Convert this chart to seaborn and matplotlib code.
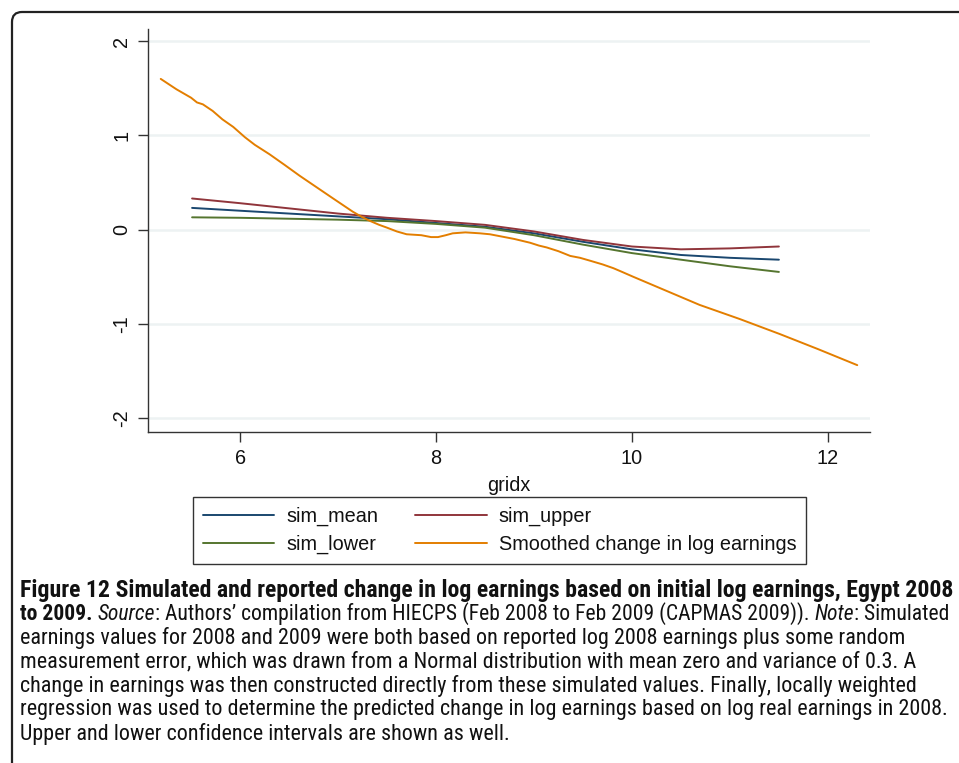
import numpy as np
import pandas as pd
import matplotlib
matplotlib.use("Agg")
import matplotlib.pyplot as plt
from matplotlib import font_manager
from matplotlib.patches import FancyBboxPatch
from matplotlib.lines import Line2D
import seaborn as sns

sns.set_theme(style="white")
plt.rcParams['font.family'] = ['Liberation Sans', 'DejaVu Sans']
plt.rcParams['text.color'] = '#111111'
plt.rcParams['xtick.color'] = '#111111'
plt.rcParams['ytick.color'] = '#111111'
plt.rcParams['axes.labelcolor'] = '#111111'

# --- data ---
sim_x = [5.51, 6.0, 6.5, 7.0, 7.5, 8.0, 8.5, 9.0, 9.5, 10.0, 10.5, 11.0, 11.5]
sim_mean = [0.23, 0.20, 0.17, 0.14, 0.11, 0.07, 0.03, -0.04, -0.13, -0.21, -0.27, -0.30, -0.32]
sim_upper = [0.33, 0.28, 0.225, 0.17, 0.125, 0.09, 0.05, -0.02, -0.11, -0.18, -0.21, -0.20, -0.18]
sim_lower = [0.13, 0.125, 0.115, 0.105, 0.09, 0.06, 0.02, -0.06, -0.16, -0.25, -0.32, -0.39, -0.45]

smooth_x = [5.19, 5.35, 5.50, 5.56, 5.62, 5.72, 5.82, 5.93, 6.05, 6.15, 6.30, 6.45, 6.61,
            6.78, 6.95, 7.05, 7.15, 7.25, 7.33, 7.42, 7.50, 7.60, 7.70, 7.85, 7.95, 8.02,
            8.10, 8.17, 8.30, 8.45, 8.55, 8.65, 8.80, 8.96, 9.05, 9.13, 9.25, 9.37, 9.47,
            9.57, 9.70, 9.81, 9.90, 10.01, 10.35, 10.69, 11.10, 11.51, 11.90, 12.30]
smooth_y = [1.60, 1.49, 1.40, 1.35, 1.33, 1.26, 1.17, 1.09, 0.98, 0.90, 0.80, 0.69, 0.57,
            0.45, 0.33, 0.26, 0.19, 0.13, 0.09, 0.05, 0.02, -0.02, -0.05, -0.06, -0.08, -0.08,
            -0.06, -0.04, -0.03, -0.04, -0.05, -0.07, -0.10, -0.14, -0.17, -0.19, -0.23, -0.28, -0.30,
            -0.33, -0.37, -0.41, -0.45, -0.50, -0.65, -0.80, -0.95, -1.11, -1.27, -1.44]

series_names = ["sim_mean", "sim_upper", "sim_lower", "Smoothed change in log earnings"]
series_colors = ["#1a476f", "#90353b", "#55752f", "#e37e00"]

sims = pd.DataFrame({"gridx": sim_x * 3,
                     "value": sim_mean + sim_upper + sim_lower,
                     "series": ["sim_mean"] * 13 + ["sim_upper"] * 13 + ["sim_lower"] * 13})
smooth = pd.DataFrame({"gridx": smooth_x, "value": smooth_y,
                       "series": "Smoothed change in log earnings"})
data = pd.concat([sims, smooth], ignore_index=True)

W, H = 959, 763
fig = plt.figure(figsize=(W / 100, H / 100), dpi=100)
ax = fig.add_axes([148 / W, 1 - 432 / H, (870 - 148) / W, (432 - 29) / H])

# grid first so lines sit on top
for yv in [-2, -1, 0, 1, 2]:
    ax.axhline(yv, color="#edf2f3", lw=1.8, zorder=0)

sns.lineplot(data=data, x="gridx", y="value", hue="series", hue_order=series_names,
             palette=series_colors, estimator=None, sort=True, lw=1.4, ax=ax, legend=False)

ax.set_xlim(5.06, 12.43)
ax.set_ylim(-2.15, 2.13)
ax.set_xticks([6, 8, 10, 12])
ax.set_yticks([-2, -1, 0, 1, 2])
ax.set_yticklabels(["-2", "-1", "0", "1", "2"], rotation=90, va="center")
ax.set_xlabel("gridx", fontsize=14.3, labelpad=6)
ax.set_ylabel("")
ax.tick_params(axis="both", labelsize=14.3, length=7, width=1, color="#333333",
               direction="out", left=True, bottom=True, pad=5)
for s in ["top", "right"]:
    ax.spines[s].set_visible(False)
for s in ["left", "bottom"]:
    ax.spines[s].set_color("#333333")
    ax.spines[s].set_linewidth(1)

# legend: matplotlib fills by column, so reorder to get rows mean/upper, lower/smoothed
order = [0, 2, 1, 3]
handles = [Line2D([], [], color=series_colors[i], lw=1.4) for i in order]
labels = [series_names[i] for i in order]
leg = fig.legend(handles, labels, loc="upper left", bbox_to_anchor=(193 / W, 1 - 497 / H),
                 ncol=2, fontsize=14.3, frameon=True, fancybox=False, edgecolor="black",
                 handlelength=3.6, handletextpad=0.6, columnspacing=1.85, labelspacing=0.45,
                 borderpad=0.5, borderaxespad=0)
leg.get_frame().set_linewidth(1)

# rounded outer frame
frame = FancyBboxPatch((0.12, -1.0), 11.0, 8.51, boxstyle="round,pad=0,rounding_size=0.1",
                       transform=fig.dpi_scale_trans, fill=False, edgecolor="#222222", lw=1.6)
fig.add_artist(frame)

# caption: pick a narrow face if one is installed
installed = {f.name for f in font_manager.fontManager.ttflist}
cap_family = "DejaVu Sans"
for cand in ["Roboto Condensed", "Open Sans Condensed", "Liberation Sans Narrow", "Roboto", "Lato"]:
    if cand in installed:
        cap_family = cand
        break
cap_kw = dict(family=cap_family)
renderer = fig.canvas.get_renderer()


def width_of(s, size, **kw):
    tt = fig.text(0, 0, s, fontsize=size, **cap_kw, **kw)
    ww = tt.get_window_extent(renderer).width
    tt.remove()
    return ww


line1 = "Figure 12 Simulated and reported change in log earnings based on initial log earnings, Egypt 2008"
rest = ["earnings values for 2008 and 2009 were both based on reported log 2008 earnings plus some random",
        "measurement error, which was drawn from a Normal distribution with mean zero and variance of 0.3. A",
        "change in earnings was then constructed directly from these simulated values. Finally, locally weighted",
        "regression was used to determine the predicted change in log earnings based on log real earnings in 2008.",
        "Upper and lower confidence intervals are shown as well."]

# sizes chosen so the widest lines end where they do in the figure
bold_size = 15 * 932 / width_of(line1, 15, weight="bold")
reg_size = 15 * 931 / width_of(rest[3], 15)

fig.text(20 / W, 1 - 590 / H, line1, fontsize=bold_size, weight="bold", va="center", **cap_kw)

# second line mixes bold, italic and regular pieces; scale it to end at x=951
pieces = [("to 2009.", dict(weight="bold")),
          (" ", None),
          ("Source", dict(style="italic")),
          (": Authors\u2019 compilation from HIECPS (Feb 2008 to Feb 2009 (CAPMAS 2009)).", {}),
          (" ", None),
          ("Note", dict(style="italic")),
          (": Simulated", {})]


def line2_width(size):
    sp = width_of("a b", size) - width_of("ab", size)
    return sum(sp if kw is None else width_of(s, size, **kw) for s, kw in pieces), sp


total, _ = line2_width(reg_size)
size2 = reg_size * 931 / total
_, space_w = line2_width(size2)
xpos = 20.0
for s, kw in pieces:
    if kw is None:
        xpos += space_w
        continue
    tt = fig.text(xpos / W, 1 - 614 / H, s, fontsize=size2, va="center", **cap_kw, **kw)
    xpos += tt.get_window_extent(renderer).width

for i, s in enumerate(rest):
    fig.text(20 / W, 1 - (638 + 24 * i) / H, s, fontsize=reg_size, va="center", **cap_kw)

fig.savefig("out.png", dpi=100)
